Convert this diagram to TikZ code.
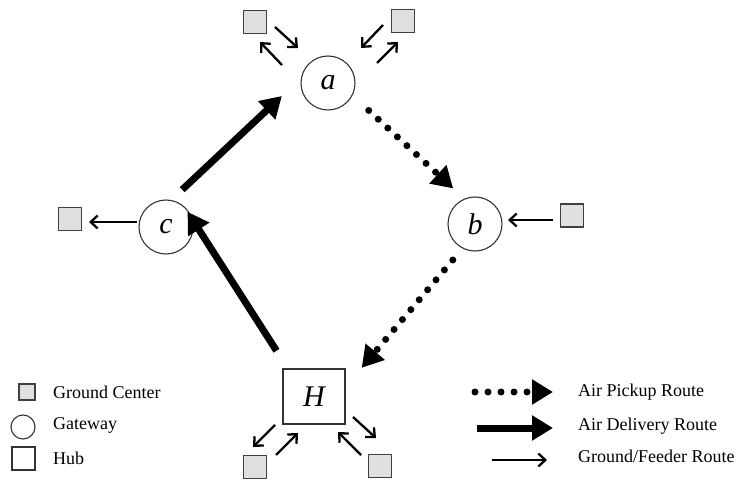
\documentclass[tikz,border=0pt]{standalone}
\usepackage{fontspec}
\setmainfont{Liberation Serif}
\usetikzlibrary{arrows.meta,calc}
\newcommand\gwlabelfont{\fontsize{30bp}{32bp}\selectfont\itshape}
\newcommand\legendfont{\fontsize{18bp}{20bp}\selectfont}
\tikzset{
  gateway/.style={circle, draw=black!80, line width=1.1bp, minimum size=54bp, inner sep=0pt, font=\gwlabelfont},
  groundc/.style={rectangle, draw=black!75, fill=black!12, line width=1.4bp, minimum size=23bp, inner sep=0pt},
  hubbox/.style={rectangle, draw=black!80, line width=1.1bp, minimum width=62bp, minimum height=55bp, inner sep=0pt, font=\gwlabelfont},
  delivery/.style={line width=7bp, -{Triangle[length=21bp,width=24bp]}},
  pickup/.style={line width=7bp, dash pattern=on 0pt off 13bp, line cap=round, -{Triangle[length=21bp,width=24bp]}},
  feeder/.style={line width=2.3bp, -{Straight Barb[length=7bp,width=13bp,line width=2.3bp]}},
  legtext/.style={anchor=west, inner sep=0pt, font=\legendfont},
}
\begin{document}
\begin{tikzpicture}[x=1bp,y=-1bp]
\useasboundingbox (0,0) rectangle (738,481);
% gateways and hub
\node[gateway] (a) at (328,83) {a};
\node[gateway] (b) at (475,224) {b};
\node[gateway] (c) at (166,227) {c};
\node[hubbox] (H) at (314,396.5) {H};
% ground centers
\node[groundc] (ga1) at (255,22) {};
\node[groundc] (ga2) at (403,21) {};
\node[groundc] (gb) at (572,215.5) {};
\node[groundc] (gc) at (70,219) {};
\node[groundc] (gh1) at (255,467) {};
\node[groundc] (gh2) at (380,466) {};
% air routes
\draw[delivery, shorten <=15bp, shorten >=26bp] (c.79) -- (a.170);
\draw[delivery, shorten <=21bp, shorten >=7bp] (H.133) -- (c.50);
\draw[pickup, shorten <=22bp, shorten >=15bp] (a.-27) -- (b.113);
\draw[pickup, shorten <=15bp, shorten >=25bp] (b.243) -- (H.17);
% ground/feeder routes
\coordinate (fa1s) at (275,27); \coordinate (fa1e) at (298,48);
\coordinate (fa2s) at (282,65); \coordinate (fa2e) at (260,42);
\coordinate (fa3s) at (383,25); \coordinate (fa3e) at (361,48);
\coordinate (fa4s) at (377,63); \coordinate (fa4e) at (398,42);
\draw[feeder] (fa1s) -- (fa1e);
\draw[feeder] (fa2s) -- (fa2e);
\draw[feeder] (fa3s) -- (fa3e);
\draw[feeder] (fa4s) -- (fa4e);
\draw[feeder, shorten <=1bp] (c.west |- 0,222) -- (89,222);
\coordinate (fbs) at (553,220); \coordinate (fbe) at (508,220);
\draw[feeder] (fbs) -- (fbe);
\coordinate (fh1s) at (275,425); \coordinate (fh1e) at (253,447);
\coordinate (fh2s) at (276,455); \coordinate (fh2e) at (298,433);
\coordinate (fh3s) at (353,417); \coordinate (fh3e) at (376,438);
\coordinate (fh4s) at (361,455); \coordinate (fh4e) at (338,432);
\draw[feeder] (fh1s) -- (fh1e);
\draw[feeder] (fh2s) -- (fh2e);
\draw[feeder] (fh3s) -- (fh3e);
\draw[feeder] (fh4s) -- (fh4e);
% legend left
\node[groundc, minimum size=16bp] (lg) at (27,392) {};
\node[circle, draw=black!80, line width=1.1bp, minimum size=24bp, inner sep=0pt] (lw) at (23,427) {};
\node[rectangle, draw=black!80, line width=1.1bp, minimum size=23bp, inner sep=0pt] (lh) at (23.5,458.5) {};
\node[legtext] (lgt) at (53,392) {Ground Center};
\node[legtext] (lwt) at (53,425) {Gateway};
\node[legtext] (lht) at (53,458) {Hub};
% legend right
\coordinate (lps) at (475,392); \coordinate (lpe) at (553,392);
\coordinate (lds) at (477,428); \coordinate (lde) at (553,428);
\coordinate (lfs) at (492,460); \coordinate (lfe) at (547,460);
\draw[pickup] (lps) -- (lpe);
\draw[delivery] (lds) -- (lde);
\draw[feeder] (lfs) -- (lfe);
\node[legtext] (lpt) at (578,392) {Air Pickup Route};
\node[legtext] (ldt) at (578,426) {Air Delivery Route};
\node[legtext] (lft) at (578,456) {Ground/Feeder Route};
\end{tikzpicture}
\end{document}
